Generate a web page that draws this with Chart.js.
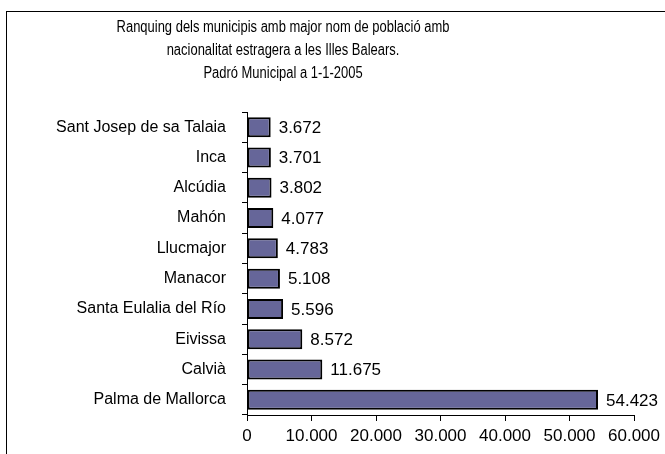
<!DOCTYPE html>
<html>
<head>
<meta charset="utf-8">
<script src="https://cdn.jsdelivr.net/npm/chart.js@4/dist/chart.umd.min.js"></script>
<style>
  html, body { margin: 0; padding: 0; background: #fff; overflow: hidden; }
  #wrap { position: relative; width: 665px; height: 454px; overflow: hidden; }
  #frame { position: absolute; left: 6px; top: 11px; width: 800px; height: 600px; border: 1px solid #000; box-sizing: border-box; }
  #title { position: absolute; left: 6px; top: 15px; width: 554px; text-align: center;
           font-family: Arial, "Liberation Sans", sans-serif; font-size: 16px; line-height: 23px; color: #000;
           transform: scaleX(0.81); transform-origin: 50% 0; }
  canvas { position: absolute; left: 0; top: 0; }
</style>
</head>
<body>
<div id="wrap">
  <div id="frame"></div>
  <canvas id="c" width="665" height="454"></canvas>
  <div id="title">Ranquing dels municipis amb major nom de població amb<br>nacionalitat estragera a les Illes Balears.<br>Padró Municipal a 1-1-2005</div>
</div>
<script>
const categories = ["Sant Josep de sa Talaia", "Inca", "Alcúdia", "Mahón", "Llucmajor", "Manacor", "Santa Eulalia del Río", "Eivissa", "Calvià", "Palma de Mallorca"];
const values = [3672, 3701, 3802, 4077, 4783, 5108, 5596, 8572, 11675, 54423];
const xTicks = [0, 10000, 20000, 30000, 40000, 50000, 60000];

function fmt(v) {
  return String(Math.round(v)).replace(/\B(?=(\d{3})+(?!\d))/g, ".");
}

const FAMILY = 'Arial, "Liberation Sans", sans-serif';
const LABEL_FONT = { family: FAMILY, size: 16 };
const NUM_FONT = { family: FAMILY, size: 17 };

const valueLabels = {
  id: 'valueLabels',
  afterDatasetsDraw(chart) {
    const ctx = chart.ctx;
    const meta = chart.getDatasetMeta(0);
    ctx.save();
    ctx.font = NUM_FONT.size + 'px ' + NUM_FONT.family;
    ctx.fillStyle = '#000';
    ctx.textAlign = 'left';
    ctx.textBaseline = 'middle';
    meta.data.forEach((bar, i) => {
      ctx.fillText(fmt(values[i]), bar.x + 8, bar.y + 1);
    });
    ctx.restore();
  }
};

new Chart(document.getElementById('c'), {
  type: 'bar',
  data: {
    labels: categories,
    datasets: [{
      data: values,
      backgroundColor: '#666699',
      borderColor: '#000',
      borderWidth: 2,
      borderSkipped: false,
      categoryPercentage: 1,
      barPercentage: 0.66
    }]
  },
  options: {
    indexAxis: 'y',
    responsive: false,
    animation: false,
    layout: { padding: { top: 112, right: 29, bottom: 0, left: 0 } },
    plugins: { legend: { display: false }, title: { display: false }, tooltip: { enabled: false } },
    scales: {
      x: {
        min: 0, max: 60000,
        afterBuildTicks(scale) { scale.ticks = xTicks.map(v => ({ value: v })); },
        afterFit(scale) { scale.height = 39; },
        grid: { drawOnChartArea: false, drawTicks: true, tickLength: 6, color: '#000' },
        border: { display: true, color: '#000', width: 1 },
        ticks: { color: '#000', font: NUM_FONT, padding: 5, maxRotation: 0, autoSkip: false,
                 callback: v => fmt(v) }
      },
      y: {
        afterFit(scale) { scale.width = 247; },
        grid: { drawOnChartArea: false, drawTicks: true, tickLength: 5, offset: true, color: '#000' },
        border: { display: true, color: '#000', width: 1 },
        ticks: { color: '#000', font: LABEL_FONT, padding: 16, autoSkip: false }
      }
    }
  },
  plugins: [valueLabels]
});
</script>
</body>
</html>
